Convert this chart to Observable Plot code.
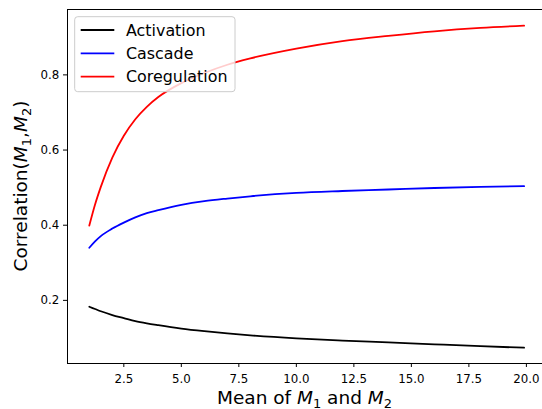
<!DOCTYPE html>
<html>
<head>
<meta charset="utf-8">
<script src="https://cdn.jsdelivr.net/npm/d3@7"></script>
<script src="https://cdn.jsdelivr.net/npm/@observablehq/plot@0.6"></script>
<style>
  html, body { margin: 0; padding: 0; background: #fff; }
  #chart { width: 542px; height: 409px; }
</style>
</head>
<body>
<div id="chart"></div>
<script>
// ---- data ----
const meanValues   = [1, 1.25, 1.5, 2, 2.5, 3, 3.5, 4, 5, 6, 7, 8, 10, 12, 14, 16, 18, 19.9];
const activation   = [0.183, 0.177, 0.171, 0.161, 0.153, 0.145, 0.139, 0.134, 0.125, 0.118, 0.112, 0.107, 0.099, 0.093, 0.088, 0.083, 0.078, 0.074];
const cascade      = [0.340, 0.357, 0.371, 0.391, 0.407, 0.421, 0.432, 0.440, 0.454, 0.464, 0.471, 0.477, 0.486, 0.491, 0.495, 0.499, 0.502, 0.504];
const coregulation = [0.399, 0.455, 0.502, 0.580, 0.638, 0.682, 0.715, 0.741, 0.778, 0.805, 0.827, 0.844, 0.870, 0.890, 0.904, 0.916, 0.925, 0.931];

const seriesNames  = ["Activation", "Cascade", "Coregulation"];
const seriesColors = ["#000000", "#0000ff", "#ff0000"];
const xTicks = [2.5, 5, 7.5, 10, 12.5, 15, 17.5, 20];
const yTicks = [0.2, 0.4, 0.6, 0.8];

const seriesValues = [activation, cascade, coregulation];
const rows = seriesNames.flatMap((name, i) =>
  meanValues.map((m, j) => ({mean: m, corr: seriesValues[i][j], series: name}))
);

const xDomain = [0.052, 20.70];
const yDomain = [0.032, 0.974];
const FONT = "DejaVu Sans, sans-serif";

const chart = Plot.plot({
  width: 542,
  height: 409,
  marginLeft: 67,
  marginRight: 0,
  marginTop: 9,
  marginBottom: 46,
  style: {fontFamily: FONT, fontSize: "11.8px", color: "#000", background: "#fff"},
  x: {domain: xDomain},
  y: {domain: yDomain},
  color: {domain: seriesNames, range: seriesColors},
  marks: [
    Plot.line(rows, {x: "mean", y: "corr", z: "series", stroke: "series", strokeWidth: 1.8, curve: "monotone-x"}),
    Plot.ruleX([xDomain[0]], {stroke: "#000", strokeWidth: 1}),
    Plot.ruleY([yDomain[0]], {stroke: "#000", strokeWidth: 1}),
    Plot.ruleY([yDomain[1]], {stroke: "#000", strokeWidth: 1}),
    Plot.axisX({ticks: xTicks, tickFormat: d => d.toFixed(1), tickSize: 4, tickPadding: 7.5, label: null}),
    Plot.axisY({ticks: yTicks, tickFormat: d => d.toFixed(1), tickSize: 4, tickPadding: 4.3, label: null})
  ]
});
document.getElementById("chart").appendChild(chart);

const svg = d3.select(chart);

// axis labels with italic M and subscripts (dy carried on the next non-empty tspan)
function richLabel(g, parts) {
  let pendingUp = false;
  parts.forEach(p => {
    const t = g.append("tspan");
    if (pendingUp) { t.attr("dy", "-3.5"); pendingUp = false; }
    if (p.sub) {
      t.attr("dy", "3.5").attr("font-size", "13px").text(p.sub);
      pendingUp = true;
    } else if (p.it) {
      t.attr("font-style", "italic").text(p.it);
    } else {
      t.text(p.t);
    }
  });
}
const xl = svg.append("text")
  .attr("x", 304.5).attr("y", 404)
  .attr("text-anchor", "middle")
  .attr("font-family", FONT).attr("font-size", "18.5px").attr("fill", "#000");
richLabel(xl, [{t: "Mean of "}, {it: "M"}, {sub: "1"}, {t: " and "}, {it: "M"}, {sub: "2"}]);

const yl = svg.append("text")
  .attr("transform", "translate(27.3,186) rotate(-90)")
  .attr("text-anchor", "middle")
  .attr("font-family", FONT).attr("font-size", "18.5px").attr("fill", "#000");
richLabel(yl, [{t: "Correlation("}, {it: "M"}, {sub: "1"}, {t: ","}, {it: "M"}, {sub: "2"}, {t: ")"}]);

// legend
const lg = svg.append("g");
lg.append("rect")
  .attr("x", 74.7).attr("y", 16.7).attr("width", 160.3).attr("height", 75)
  .attr("rx", 3).attr("fill", "#fff").attr("fill-opacity", 0.8)
  .attr("stroke", "#cccccc").attr("stroke-width", 1);
seriesNames.forEach((name, i) => {
  const cy = 30 + i * 23.3;
  lg.append("line").attr("x1", 80.7).attr("x2", 114.3).attr("y1", cy).attr("y2", cy)
    .attr("stroke", seriesColors[i]).attr("stroke-width", 1.8);
  lg.append("text").attr("x", 126).attr("y", cy).attr("dy", "0.37em")
    .attr("text-anchor", "start")
    .attr("font-family", FONT).attr("font-size", "15.9px").attr("fill", "#000")
    .text(name);
});
</script>
</body>
</html>
